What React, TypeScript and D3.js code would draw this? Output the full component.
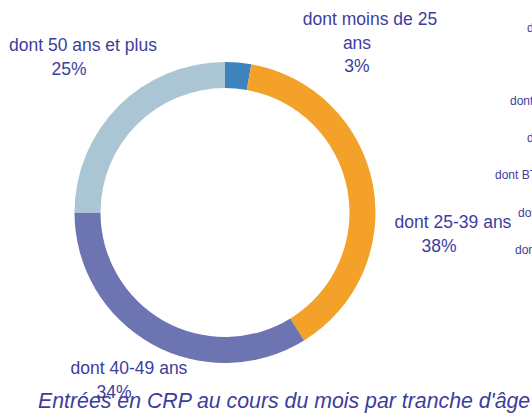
import React from "react";
import * as d3 from "d3";

const categories = ["dont moins de 25 ans", "dont 25-39 ans", "dont 40-49 ans", "dont 50 ans et plus"];
const values = [2.8, 38.4, 33.8, 25.0];
const labelLines = [["dont moins de 25", "ans"], ["dont 25-39 ans"], ["dont 40-49 ans"], ["dont 50 ans et plus"]];
const title = "Entrées en CRP au cours du mois par tranche d'âge";
const sideLabels = ["dont Industrie", "dont Commerce", "dont Services", "dont BTP", "dont Agriculture", "dont Autres"];

const colors = ["#3e84bc", "#f4a12a", "#6c74b2", "#aac6d4"];
const textColor = "#3d3d9c";

// label layout: first line center x, first baseline y
const labelPos = [
  { x: 370, y: 25, dx2: -13 },
  { x: 453, y: 228, dx2: -14 },
  { x: 129, y: 374, dx2: -15 },
  { x: 83, y: 51, dx2: -14 },
];
const sidePos = [
  { x: 527, y: 32 },
  { x: 510, y: 105 },
  { x: 527, y: 142 },
  { x: 495, y: 179 },
  { x: 518, y: 217 },
  { x: 515, y: 254 },
];

export default function App() {
  const W = 532, H = 414;
  const cx = 225, cy = 212.5;
  const pie = d3.pie<number>().sort(null).value((d) => d);
  const arcs = pie(values);
  const arc = d3.arc<d3.PieArcDatum<number>>().innerRadius(124.5).outerRadius(150.5);
  const total = d3.sum(values);
  const font = "'Liberation Sans', Arial, sans-serif";
  const lh = 23.7;
  return (
    <div style={{ position: "absolute", left: 0, top: 0 }}>
      <svg width={W} height={H} style={{ display: "block" }}>
        <rect width={W} height={H} fill="#fff" />
        <g transform={`translate(${cx},${cy})`}>
          {arcs.map((a, i) => (
            <path key={categories[i]} d={arc(a) || ""} fill={colors[i]} />
          ))}
        </g>
        {labelLines.map((lines, i) => {
          const p = labelPos[i];
          const pct = Math.round((values[i] / total) * 100) + "%";
          const all = [...lines, pct];
          return (
            <g key={i} fontFamily={font} fontSize={17.5} fill={textColor} textAnchor="middle">
              {all.map((t, j) => (
                <text key={j} x={j === 0 ? p.x : p.x + p.dx2} y={p.y + j * lh}>
                  {t}
                </text>
              ))}
            </g>
          );
        })}
        <g fontFamily={font} fontSize={12} fill={textColor}>
          {sideLabels.map((t, i) => (
            <text key={i} x={sidePos[i].x} y={sidePos[i].y}>
              {t}
            </text>
          ))}
        </g>
        <text x={38} y={408} fontFamily={font} fontSize={21.3} fontStyle="italic" fill={textColor}>
          {title}
        </text>
      </svg>
    </div>
  );
}
